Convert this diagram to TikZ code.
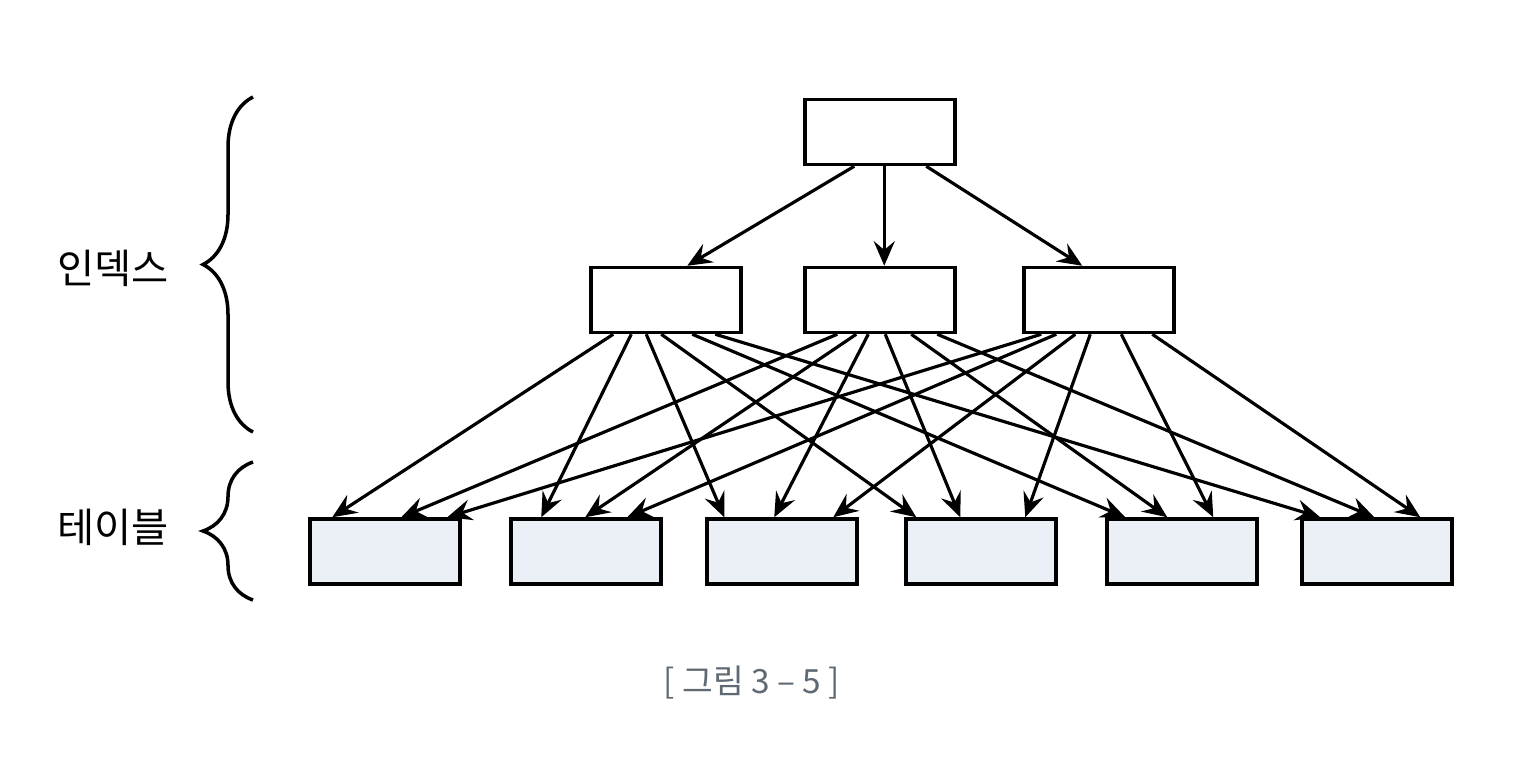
\documentclass[tikz,border=0pt]{standalone}
\usepackage{fontspec}
\newfontfamily\kr{Noto Sans CJK KR}
\usetikzlibrary{arrows.meta,calc,decorations.pathreplacing}
\definecolor{tablefill}{RGB}{234,240,245}
\definecolor{captiongray}{RGB}{95,105,115}
\begin{document}
\begin{tikzpicture}[x=0.02cm,y=-0.02cm,
  idxbox/.style={draw,line width=2pt,minimum width=3.0cm,minimum height=1.3cm,inner sep=0pt},
  tblbox/.style={idxbox,fill=tablefill},
  arr/.style={line width=1.8pt,-{Stealth[length=14pt,width=12pt,inset=5pt]}},
  brc/.style={line width=2pt,decorate,decoration={brace,amplitude=1cm}},
  lbl/.style={font=\kr\fontsize{23}{26}\selectfont}]
\useasboundingbox (0,0) rectangle (1514,758);
\node[idxbox] (root) at (880,132) {};
\node[idxbox] (m1) at (666,300) {};
\node[idxbox] (m2) at (880,300) {};
\node[idxbox] (m3) at (1099,300) {};
\node[tblbox] (b1) at (385,551.5) {};
\node[tblbox] (b2) at (586,551.5) {};
\node[tblbox] (b3) at (782,551.5) {};
\node[tblbox] (b4) at (981,551.5) {};
\node[tblbox] (b5) at (1182,551.5) {};
\node[tblbox] (b6) at (1377,551.5) {};
% root -> index
\draw[arr] ($(root.south west)+(51,0)$) -- ($(m1.north west)+(98,0)$);
\draw[arr] ($(root.south west)+(81,0)$) -- ($(m2.north west)+(81,0)$);
\draw[arr] ($(root.south west)+(123,0)$) -- ($(m3.north west)+(60,0)$);
% index -> table
\draw[arr] ($(m1.south west)+(24,0)$) -- ($(b1.north west)+(24,0)$);
\draw[arr] ($(m1.south west)+(42,0)$) -- ($(b2.north west)+(32,0)$);
\draw[arr] ($(m1.south west)+(57,0)$) -- ($(b3.north west)+(19,0)$);
\draw[arr] ($(m1.south west)+(72,0)$) -- ($(b4.north west)+(12,0)$);
\draw[arr] ($(m1.south west)+(103,0)$) -- ($(b5.north west)+(20,0)$);
\draw[arr] ($(m1.south west)+(126,0)$) -- ($(b6.north west)+(20,0)$);
\draw[arr] ($(m2.south west)+(34,0)$) -- ($(b1.north west)+(93,0)$);
\draw[arr] ($(m2.south west)+(53,0)$) -- ($(b2.north west)+(76,0)$);
\draw[arr] ($(m2.south west)+(65,0)$) -- ($(b3.north west)+(69,0)$);
\draw[arr] ($(m2.south west)+(82,0)$) -- ($(b4.north west)+(56,0)$);
\draw[arr] ($(m2.south west)+(108,0)$) -- ($(b5.north west)+(62,0)$);
\draw[arr] ($(m2.south west)+(134,0)$) -- ($(b6.north west)+(74,0)$);
\draw[arr] ($(m3.south west)+(19,0)$) -- ($(b1.north west)+(139,0)$);
\draw[arr] ($(m3.south west)+(34,0)$) -- ($(b2.north west)+(118,0)$);
\draw[arr] ($(m3.south west)+(53,0)$) -- ($(b3.north west)+(128,0)$);
\draw[arr] ($(m3.south west)+(68,0)$) -- ($(b4.north west)+(121,0)$);
\draw[arr] ($(m3.south west)+(99,0)$) -- ($(b5.north west)+(108,0)$);
\draw[arr] ($(m3.south west)+(130,0)$) -- ($(b6.north west)+(120,0)$);
% braces
\draw[brc] (253,432) -- (253,97);
\draw[brc] (253,600) -- (253,462);
\node[lbl] (idx) at (113,268) {인덱스};
\node[lbl] (tbl) at (113,527) {테이블};
\node[font=\kr\fontsize{19}{22}\selectfont,text=captiongray] (cap) at (752,683) {[ 그림 3 – 5 ]};
\end{tikzpicture}
\end{document}
